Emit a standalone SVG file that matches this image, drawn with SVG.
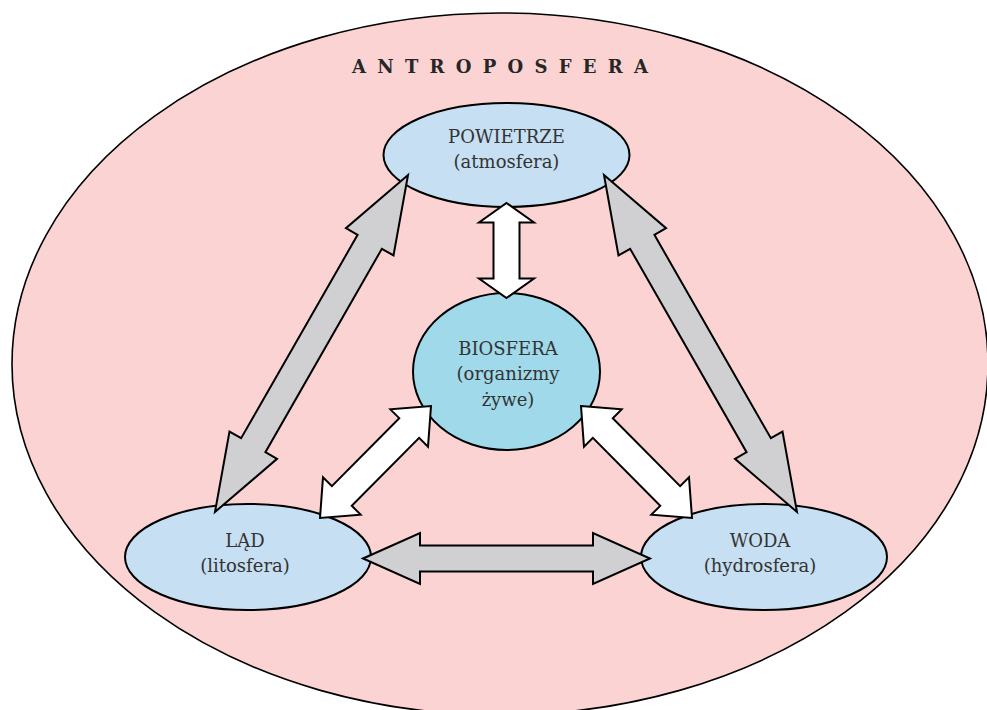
<svg xmlns="http://www.w3.org/2000/svg" width="987" height="710" viewBox="0 0 987 710">
<style>
.bg{fill:#FAD3D2;stroke:#000;stroke-width:1.6}
.node{fill:#C6DFF2;stroke:#000;stroke-width:2}
.bio{fill:#A0DAEA;stroke:#000;stroke-width:2}
.lbl{font-family:"DejaVu Serif","Liberation Serif",serif;font-size:18px;fill:#333;text-anchor:middle}
.title{font-family:"DejaVu Serif","Liberation Serif",serif;font-size:18px;font-weight:bold;fill:#262626}
.ga{fill:#D0D0D3;stroke:#000;stroke-width:2;stroke-linejoin:miter;stroke-miterlimit:10}
.wa{fill:#FFFFFF;stroke:#000;stroke-width:2;stroke-linejoin:miter;stroke-miterlimit:10}
</style>
<rect x="0" y="0" width="987" height="710" fill="#FFFFFF"/>
<g id="antroposfera">
<ellipse class="bg" cx="500" cy="364" rx="488" ry="351"/>
<text class="title" x="352" y="73" textLength="296" lengthAdjust="spacing">ANTROPOSFERA</text>
</g>
<g id="powietrze">
<ellipse class="node" cx="506.5" cy="155" rx="123" ry="52"/>
<text class="lbl" x="506.5" y="143">POWIETRZE</text>
<text class="lbl" x="506.5" y="168">(atmosfera)</text>
</g>
<g id="biosfera">
<ellipse class="bio" cx="506.5" cy="371.5" rx="93.5" ry="78.5"/>
<text class="lbl" x="508" y="355">BIOSFERA</text>
<text class="lbl" x="508" y="380">(organizmy</text>
<text class="lbl" x="508" y="406">żywe)</text>
</g>
<g id="lad">
<ellipse class="node" cx="248" cy="557" rx="123" ry="53"/>
<text class="lbl" x="245" y="547">LĄD</text>
<text class="lbl" x="245" y="572">(litosfera)</text>
</g>
<g id="woda">
<ellipse class="node" cx="764" cy="557" rx="123" ry="53"/>
<text class="lbl" x="760" y="547">WODA</text>
<text class="lbl" x="760" y="572">(hydrosfera)</text>
</g>
<g id="connectors">
<polygon class="ga" transform="translate(215,512) rotate(-60.2)" points="0,0 77,-27.4 77,-14 311.35,-14 311.35,-27.4 388.35,0 311.35,27.4 311.35,14 77,14 77,27.4"/>
<polygon class="ga" transform="translate(604,175) rotate(60.2)" points="0,0 77,-27.4 77,-14 311.35,-14 311.35,-27.4 388.35,0 311.35,27.4 311.35,14 77,14 77,27.4"/>
<polygon class="ga" transform="translate(363,558.5)" points="0,0 57,-25.5 57,-13 230,-13 230,-25.5 287,0 230,25.5 230,13 57,13 57,25.5"/>
<polygon class="wa" transform="translate(506.5,203) rotate(90)" points="0,0 19.5,-27.5 19.5,-13 75.5,-13 75.5,-27.5 95,0 75.5,27.5 75.5,13 19.5,13 19.5,27.5"/>
<polygon class="wa" transform="translate(320,518) rotate(-45.26)" points="0,0 31,-26.5 31,-14 126.7,-14 126.7,-26.5 157.7,0 126.7,26.5 126.7,14 31,14 31,26.5"/>
<polygon class="wa" transform="translate(581,406) rotate(45.26)" points="0,0 31,-26.5 31,-14 126.7,-14 126.7,-26.5 157.7,0 126.7,26.5 126.7,14 31,14 31,26.5"/>
</g>
</svg>
